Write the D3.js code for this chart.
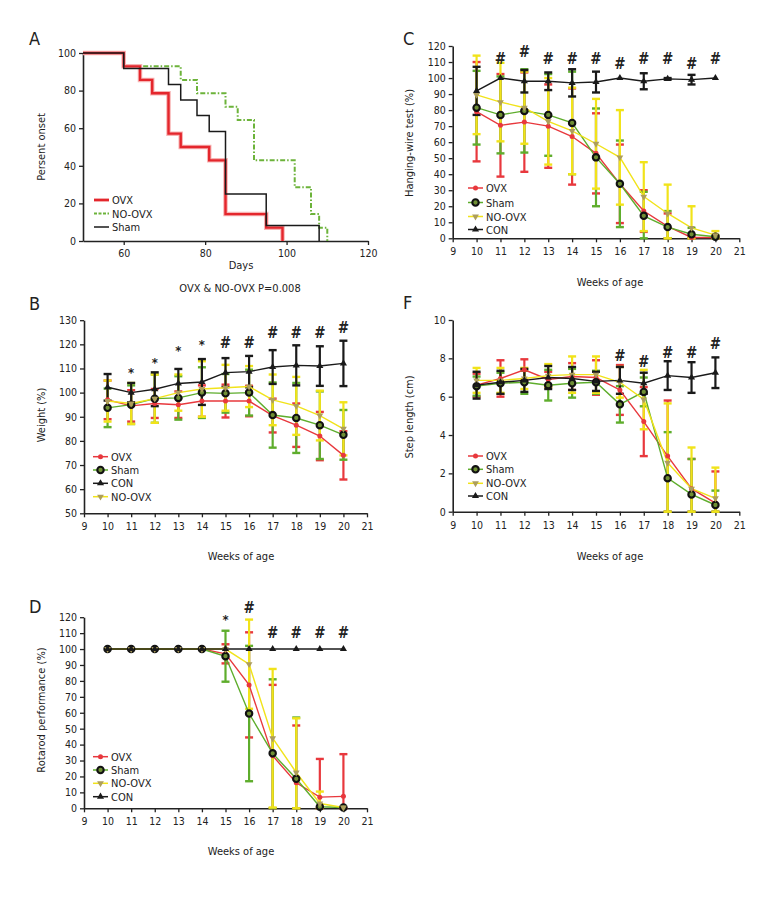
<!DOCTYPE html>
<html><head><meta charset="utf-8">
<script src="https://cdn.jsdelivr.net/npm/d3@7"></script>
<style>
body{margin:0;background:#fff}
text{font-family:'Liberation Sans Narrow','DejaVu Sans Condensed','Roboto Condensed',sans-serif;fill:#222}
</style>
</head><body>
<svg id="c" width="780" height="900"></svg>
<script>
// ---------- DATA ----------
// Panel A (Kaplan-Meier onset)
const aOvxDays   = [50, 60, 64, 67, 71, 74, 81, 85, 95, 99];
const aOvxPct    = [100, 92.9, 85.7, 78.6, 57.1, 50, 42.9, 14.3, 7.1, 0];
const aShamDays  = [50, 60, 71, 74, 78, 81, 85, 95, 108];
const aShamPct   = [100, 91.7, 83.3, 75, 66.7, 58.3, 25, 8.3, 0];
const aNoDays    = [50, 60, 74, 78, 85, 88, 92, 102, 106, 108, 110];
const aNoPct     = [100, 92.9, 85.7, 78.6, 71.4, 64.3, 42.9, 28.6, 14.3, 7.1, 0];
const aXTicks = [60, 80, 100, 120];
const aYTicks = [0, 20, 40, 60, 80, 100];

const weeks = [10, 11, 12, 13, 14, 15, 16, 17, 18, 19, 20];
const weekTicks = [9, 10, 11, 12, 13, 14, 15, 16, 17, 18, 19, 20, 21];

// Panel C: hanging-wire test (%)
const cOvx = [79, 70.5, 72.5, 70, 63.5, 53, 34, 17, 7.5, 0.5, 0.5];
const cOvxErr = [31, 32, 31, 26, 30, 25, 24.5, 13, 8, 0.5, 1];
const cSham = [81.5, 77, 79.5, 77, 72, 50.5, 34, 14, 7, 2.5, 1];
const cShamErr = [23, 24, 26, 25.5, 32, 30.5, 27, 15, 10, 4, 1];
const cNo = [89.5, 85, 81.5, 73, 67, 59, 50.5, 26, 15.5, 6.5, 2];
const cNoErr = [24.5, 24.5, 22.5, 27, 27, 28, 29.5, 21.5, 18, 13.5, 2.5];
const cCon = [92, 100, 98, 98, 97, 97.5, 100, 98, 99.5, 99, 100];
const cConErr = [15, 0, 7, 5.5, 8.5, 6.5, 0, 5, 0.5, 3, 0];
const cMarkWeeks = [11, 12, 13, 14, 15, 16, 17, 18, 19, 20];
const cMarkY = [112, 116, 112, 112, 112, 108.5, 112, 112, 108.5, 112];
const cMarkSym = ["#", "#", "#", "#", "#", "#", "#", "#", "#", "#"];
const cYTicks = [0, 10, 20, 30, 40, 50, 60, 70, 80, 90, 100, 110, 120];

// Panel B: weight (%)
const bOvx = [97, 94.5, 95.5, 95, 96.5, 96.5, 96.5, 90.5, 86.5, 82, 74];
const bOvxErr = [8, 6.5, 6, 5.5, 6.5, 6.8, 6.3, 7, 9, 10, 10];
const bSham = [93.7, 95, 97.5, 97.8, 100, 99.7, 100, 90.7, 89.5, 86.5, 82.5];
const bShamErr = [8, 8, 10, 9, 10.5, 8, 9.5, 13.5, 14.5, 14, 10.3];
const bCon = [102.2, 100, 101.4, 103.8, 104.4, 108.3, 108.7, 110.6, 111.3, 111, 112.1];
const bConErr = [5.5, 4, 7, 6, 9.5, 6, 6.5, 7, 8.3, 8.2, 9.4];
const bNo = [96.5, 95.5, 97.5, 100, 101.5, 102, 102.5, 97, 94.5, 90.5, 85];
const bNoErr = [8.5, 8.5, 10, 7.5, 11.5, 9.5, 8.5, 10.5, 12, 10.3, 11];
const bMarkWeeks = [11, 12, 13, 14, 15, 16, 17, 18, 19, 20];
const bMarkY = [109.1, 113.2, 117.9, 120.4, 120.7, 120.7, 124.6, 124.6, 124.6, 126.6];
const bMarkSym = ["*", "*", "*", "*", "#", "#", "#", "#", "#", "#"];
const bYTicks = [50, 60, 70, 80, 90, 100, 110, 120, 130];

// Panel F: step length (cm)
const fOvx = [6.6, 6.95, 7.4, 6.9, 7.05, 7.0, 6.35, 4.7, 2.9, 1.2, 0.45];
const fOvxErr = [0.6, 0.95, 0.55, 0.4, 0.7, 0.9, 1.3, 1.8, 2.9, 1.55, 1.65];
const fSham = [6.55, 6.7, 6.75, 6.6, 6.7, 6.75, 5.6, 6.25, 1.75, 0.9, 0.35];
const fShamErr = [0.5, 0.55, 0.6, 0.8, 0.75, 0.6, 0.95, 0.75, 2.4, 1.85, 0.75];
const fNo = [6.85, 6.85, 6.95, 7.1, 7.15, 7.15, 6.75, 5.85, 2.55, 1.2, 0.7];
const fNoErr = [0.65, 0.65, 0.55, 0.6, 0.95, 0.95, 0.8, 1.55, 3.1, 2.15, 1.6];
const fCon = [6.6, 6.75, 6.85, 7.0, 6.95, 6.8, 6.85, 6.7, 7.1, 7.0, 7.25];
const fConErr = [0.7, 0.6, 0.6, 0.6, 0.6, 0.5, 0.7, 0.55, 0.75, 0.8, 0.8];
const fMarkWeeks = [16, 17, 18, 19, 20];
const fMarkY = [8.1, 7.8, 8.3, 8.3, 8.75];
const fMarkSym = ["#", "#", "#", "#", "#"];
const fYTicks = [0, 2, 4, 6, 8, 10];

// Panel D: rotarod performance (%)
const dOvx = [100, 100, 100, 100, 100, 97, 77.5, 33, 16, 7, 7.5];
const dOvxErr = [0, 0, 0, 0, 0, 6, 33, 44.5, 36, 24, 26.5];
const dSham = [100, 100, 100, 100, 100, 95.5, 59.5, 34.5, 18.5, 1, 0.5];
const dShamErr = [0, 0, 0, 0, 0, 16, 42.5, 46.5, 38.5, 0, 0];
const dNo = [100, 100, 100, 100, 100, 100, 90.5, 44, 22.5, 3, 0.5];
const dNoErr = [0, 0, 0, 0, 0, 0, 28, 43.5, 34, 7.5, 0];
const dCon = [100, 100, 100, 100, 100, 100, 100, 100, 100, 100, 100];
const dConErr = [0, 0, 0, 0, 0, 0, 0, 0, 0, 0, 0];
const dMarkWeeks = [15, 16, 17, 18, 19, 20];
const dMarkY = [119.5, 125.7, 110, 110, 110, 110];
const dMarkSym = ["*", "#", "#", "#", "#", "#"];
const dYTicks = [0, 10, 20, 30, 40, 50, 60, 70, 80, 90, 100, 110, 120];

// ---------- STYLE ----------
const RED = "#e8383d", GREEN = "#5ead2c", YELLOW = "#f1e31a", BLACK = "#1a1a1a";
const svg = d3.select("#c");
const FONT = 10.5;

function styleAxis(g) {
  g.select(".domain").attr("stroke", "#222").attr("stroke-width", 1.6);
  g.selectAll(".tick line").attr("stroke", "#222").attr("stroke-width", 1.3);
  g.selectAll(".tick text").attr("font-size", FONT).attr("fill", "#222");
}

function drawMarker(sel, type, x, y) {
  if (type === "ovx") {
    sel.append("circle").attr("cx", x).attr("cy", y).attr("r", 2.5).attr("fill", RED);
  } else if (type === "sham") {
    sel.append("circle").attr("cx", x).attr("cy", y).attr("r", 3.2)
      .attr("fill", "#6f8f34").attr("stroke", "#111").attr("stroke-width", 2.1);
  } else if (type === "no") {
    sel.append("path").attr("d", d3.symbol(d3.symbolTriangle, 20)())
      .attr("transform", `translate(${x},${y}) rotate(180)`).attr("fill", "#ad9e5c");
  } else if (type === "con") {
    sel.append("path").attr("d", d3.symbol(d3.symbolTriangle, 22)())
      .attr("transform", `translate(${x},${y})`).attr("fill", BLACK);
  }
}

function legend(items, lx, ys) {
  const g = svg.append("g");
  items.forEach((it, i) => {
    const y = ys[i];
    g.append("line").attr("x1", lx).attr("x2", lx + 15).attr("y1", y).attr("y2", y)
      .attr("stroke", it.color).attr("stroke-width", it.w || 1.5)
      .attr("stroke-dasharray", it.dash || null);
    if (it.marker) drawMarker(g, it.marker, lx + 7.5, y);
    g.append("text").attr("x", lx + 18).attr("y", y + 4).attr("font-size", FONT + 0.5).text(it.label);
  });
}

function labels(xl, xlx, xly, yl, ylx, yly) {
  svg.append("text").attr("x", xlx).attr("y", xly).attr("text-anchor", "middle")
    .attr("font-size", FONT + 0.5).text(xl);
  svg.append("text").attr("transform", `translate(${ylx},${yly}) rotate(-90)`)
    .attr("text-anchor", "middle").attr("font-size", FONT + 0.5).text(yl);
}

function letter(t, x, y) {
  svg.append("text").attr("x", x).attr("y", y).attr("font-size", 18).text(t);
}

// ---------- PANEL A ----------
(function () {
  const x = d3.scaleLinear().domain([50, 120]).range([83, 368]);
  const y = d3.scaleLinear().domain([0, 100]).range([241, 53]);
  const gx = svg.append("g").attr("transform", "translate(0,241)")
    .call(d3.axisBottom(x).tickValues(aXTicks).tickSize(4).tickSizeOuter(0));
  styleAxis(gx);
  gx.selectAll(".tick text").attr("dy", "0.9em");
  const gy = svg.append("g").attr("transform", "translate(83,0)")
    .call(d3.axisLeft(y).tickValues(aYTicks).tickSize(4).tickSizeOuter(0));
  styleAxis(gy);

  const line = d3.line().x(d => x(d[0])).y(d => y(d[1])).curve(d3.curveStepAfter);
  const zip = (a, b) => a.map((v, i) => [v, b[i]]);
  svg.append("path").attr("d", line(zip(aNoDays, aNoPct))).attr("fill", "none")
    .attr("stroke", "#6cb33a").attr("stroke-width", 2).attr("stroke-dasharray", "5,2,1.5,2");
  svg.append("path").attr("d", line(zip(aOvxDays, aOvxPct))).attr("fill", "none")
    .attr("stroke", "#f7b3b3").attr("stroke-width", 4.5);
  svg.append("path").attr("d", line(zip(aOvxDays, aOvxPct))).attr("fill", "none")
    .attr("stroke", "#e4262c").attr("stroke-width", 2.4);
  svg.append("path").attr("d", line(zip(aShamDays, aShamPct))).attr("fill", "none")
    .attr("stroke", BLACK).attr("stroke-width", 1.5);

  legend([
    { label: "OVX", color: "#e4262c", w: 2.8 },
    { label: "NO-OVX", color: "#6cb33a", w: 2, dash: "3,1.5" },
    { label: "Sham", color: BLACK, w: 1.5 }
  ], 94, [200, 213.5, 227]);
  labels("Days", 241, 269, "Persent onset", 45, 147);
  svg.append("text").attr("x", 240).attr("y", 292).attr("text-anchor", "middle")
    .attr("font-size", FONT + 0.5).text("OVX & NO-OVX P=0.008");
  letter("A", 29, 45);
})();

// ---------- error-bar panel ----------
function errPanel(o) {
  const x = d3.scaleLinear().domain([9, 21]).range([o.x0, o.x1]);
  const y = d3.scaleLinear().domain(o.yd).range([o.y0, o.y1]);
  const gx = svg.append("g").attr("transform", `translate(0,${o.y0})`)
    .call(d3.axisBottom(x).tickValues(weekTicks).tickSize(4).tickSizeOuter(0));
  styleAxis(gx);
  gx.selectAll(".tick text").attr("dy", "0.95em");
  const gy = svg.append("g").attr("transform", `translate(${o.x0},0)`)
    .call(d3.axisLeft(y).tickValues(o.yt).tickSize(4).tickSizeOuter(0));
  styleAxis(gy);

  const S = o.series;
  S.forEach(s => {
    const g = svg.append("g").attr("stroke", s.color);
    weeks.forEach((w, i) => {
      const e = s.err[i];
      if (!e) return;
      const cx = x(w);
      const hi = y(s.vals[i] + e);
      const lo = y(Math.max(s.vals[i] - e, o.yd[0]));
      g.append("line").attr("x1", cx).attr("x2", cx).attr("y1", hi).attr("y2", lo).attr("stroke-width", 2.2);
      g.append("line").attr("x1", cx - 4).attr("x2", cx + 4).attr("y1", hi).attr("y2", hi).attr("stroke-width", 2.4);
      g.append("line").attr("x1", cx - 4).attr("x2", cx + 4).attr("y1", lo).attr("y2", lo).attr("stroke-width", 2.4);
    });
  });
  const line = d3.line().x((d, i) => x(weeks[i])).y(d => y(d));
  S.forEach(s => {
    svg.append("path").attr("d", line(s.vals)).attr("fill", "none")
      .attr("stroke", s.color).attr("stroke-width", 1.4);
  });
  S.forEach(s => {
    const g = svg.append("g");
    weeks.forEach((w, i) => drawMarker(g, s.marker, x(w), y(s.vals[i])));
  });
  o.marks.forEach(m => {
    svg.append("text").attr("x", x(m.w)).attr("y", y(m.y) + (m.s === "#" ? 5 : 6))
      .attr("text-anchor", "middle").attr("fill", "#111")
      .attr("font-size", m.s === "#" ? 15 : 13).attr("font-weight", "bold").text(m.s);
  });
}

const mk = (w, yv, s) => w.map((d, i) => ({ w: d, y: yv[i], s: s[i] }));
const sOvx = (v, e) => ({ vals: v, err: e, color: RED, marker: "ovx" });
const sSham = (v, e) => ({ vals: v, err: e, color: GREEN, marker: "sham" });
const sNo = (v, e) => ({ vals: v, err: e, color: YELLOW, marker: "no" });
const sCon = (v, e) => ({ vals: v, err: e, color: BLACK, marker: "con" });
const legStd = [
  { label: "OVX", color: RED, marker: "ovx" },
  { label: "Sham", color: GREEN, marker: "sham" },
  { label: "NO-OVX", color: YELLOW, marker: "no" },
  { label: "CON", color: BLACK, marker: "con" }
];

// C
errPanel({ x0: 452.7, x1: 739.3, y0: 238.3, y1: 46, yd: [0, 120], yt: cYTicks,
  series: [sOvx(cOvx, cOvxErr), sSham(cSham, cShamErr), sNo(cNo, cNoErr), sCon(cCon, cConErr)],
  marks: mk(cMarkWeeks, cMarkY, cMarkSym) });
legend(legStd, 468, [188, 202.5, 216.5, 229.5]);
labels("Weeks of age", 610, 286, "Hanging-wire test  (%)", 413, 143);
letter("C", 403, 45);

// B
errPanel({ x0: 84, x1: 367, y0: 513.3, y1: 320.2, yd: [50, 130], yt: bYTicks,
  series: [sOvx(bOvx, bOvxErr), sSham(bSham, bShamErr), sNo(bNo, bNoErr), sCon(bCon, bConErr)],
  marks: mk(bMarkWeeks, bMarkY, bMarkSym) });
legend([
  { label: "OVX", color: RED, marker: "ovx" },
  { label: "Sham", color: GREEN, marker: "sham" },
  { label: "CON", color: BLACK, marker: "con" },
  { label: "NO-OVX", color: YELLOW, marker: "no" }
], 93, [456.7, 470, 483.3, 496.7]);
labels("Weeks of age", 241, 560, "Weight (%)", 45, 415);
letter("B", 29, 310);

// F
errPanel({ x0: 452.7, x1: 739.3, y0: 511.7, y1: 320, yd: [0, 10], yt: fYTicks,
  series: [sOvx(fOvx, fOvxErr), sSham(fSham, fShamErr), sNo(fNo, fNoErr), sCon(fCon, fConErr)],
  marks: mk(fMarkWeeks, fMarkY, fMarkSym) });
legend(legStd, 468, [456, 469.3, 483.3, 496]);
labels("Weeks of age", 610, 560, "Step length (cm)", 413, 417);
letter("F", 403, 309);

// D
errPanel({ x0: 84, x1: 367, y0: 808.3, y1: 617.2, yd: [0, 120], yt: dYTicks,
  series: [sOvx(dOvx, dOvxErr), sSham(dSham, dShamErr), sNo(dNo, dNoErr), sCon(dCon, dConErr)],
  marks: mk(dMarkWeeks, dMarkY, dMarkSym) });
legend(legStd, 93, [756.7, 770, 783.3, 796.7]);
labels("Weeks of age", 241, 855, "Rotarod performance (%)", 45, 710);
letter("D", 29, 613);
</script>
</body></html>
